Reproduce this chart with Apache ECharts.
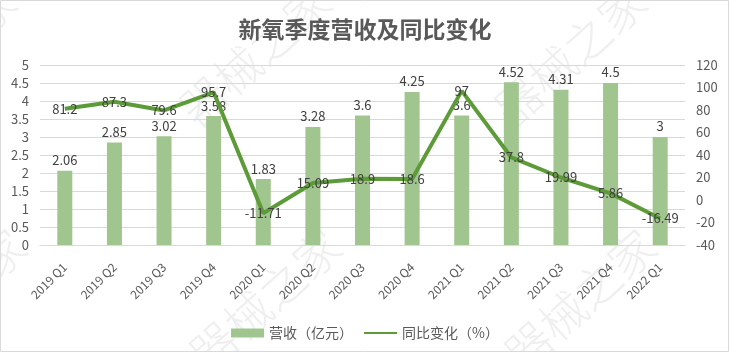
<!DOCTYPE html>
<html>
<head>
<meta charset="utf-8">
<script src="https://cdn.jsdelivr.net/npm/echarts@6/dist/echarts.min.js"></script>
<style>html,body{margin:0;padding:0;background:#fff;}#c{width:730px;height:352px;}</style>
</head>
<body>
<div id="c"></div>
<script>
const categories = ['2019 Q1','2019 Q2','2019 Q3','2019 Q4','2020 Q1','2020 Q2','2020 Q3','2020 Q4','2021 Q1','2021 Q2','2021 Q3','2021 Q4','2022 Q1'];
const revenue = [2.06, 2.85, 3.02, 3.58, 1.83, 3.28, 3.6, 4.25, 3.6, 4.52, 4.31, 4.5, 3];
const yoy = [81.2, 87.3, 79.6, 95.7, -11.71, 15.09, 18.9, 18.6, 97, 37.8, 19.99, 5.86, -16.49];
const titleText = '新氧季度营收及同比变化';
const revenueName = '营收（亿元）';
const yoyName = '同比变化（%）';
const watermark = '器械之家';

const font = '"Noto Sans CJK SC", "Noto Sans", sans-serif';
const wmPos = [[255,55],[570,55],[-60,55],[265,300],[580,300],[-50,300]];
const chart = echarts.init(document.getElementById('c'), null, {renderer:'canvas'});
chart.setOption({
  backgroundColor: '#fff',
  animation: false,
  textStyle: { fontFamily: font },
  title: {
    text: titleText, left: 'center', top: 13,
    textStyle: { fontSize: 23, fontWeight: 'bold', color: '#595959', fontFamily: font }
  },
  graphic: wmPos.map(p => ({
    type: 'text', x: p[0], y: p[1], rotation: 0.73, z: -10, silent: true,
    style: { text: watermark, fill: '#efefef', font: '300 46px ' + font, align: 'center', verticalAlign: 'middle' }
  })).concat([{
    type: 'rect', shape: {x:0.5, y:0.5, width:728, height:351}, z: 100, silent: true,
    style: { fill: 'none', stroke: '#d9d9d9', lineWidth: 1 }
  }]),
  legend: {
    bottom: 7, left: 'center', itemGap: 10,
    textStyle: { color: '#595959', fontSize: 14 },
    data: [
      { name: revenueName, icon: 'rect' },
      { name: yoyName, itemStyle: { opacity: 0 } }
    ],
    itemWidth: 33, itemHeight: 9
  },
  grid: { left: 40, right: 45, top: 65, bottom: 107, containLabel: false },
  xAxis: {
    type: 'category', data: categories,
    axisTick: { show: false },
    axisLine: { lineStyle: { color: '#d9d9d9' } },
    axisLabel: { rotate: 45, color: '#595959', fontSize: 12, interval: 0, margin: 20 }
  },
  yAxis: [
    {
      type: 'value', min: 0, max: 5, interval: 0.5,
      axisLine: { show: false }, axisTick: { show: false },
      splitLine: { lineStyle: { color: '#d9d9d9' } },
      axisLabel: { color: '#595959', fontSize: 13, margin: 11 }
    },
    {
      type: 'value', min: -40, max: 120, interval: 20,
      axisLine: { show: false }, axisTick: { show: false },
      splitLine: { show: false },
      axisLabel: { color: '#595959', fontSize: 13, margin: 11 }
    }
  ],
  series: [
    {
      name: revenueName, type: 'bar', data: revenue, barWidth: 15,
      itemStyle: { color: '#a1c58f' },
      label: { show: true, position: 'top', color: '#404040', fontSize: 13, distance: 4 }
    },
    {
      name: yoyName, type: 'line', yAxisIndex: 1, data: yoy,
      symbol: 'circle', symbolSize: 0, showSymbol: true,
      lineStyle: { color: '#5d9b39', width: 4 },
      itemStyle: { color: '#5d9b39' },
      label: { show: true, position: 'inside', color: '#404040', fontSize: 13 }
    }
  ]
});
</script>
</body>
</html>
